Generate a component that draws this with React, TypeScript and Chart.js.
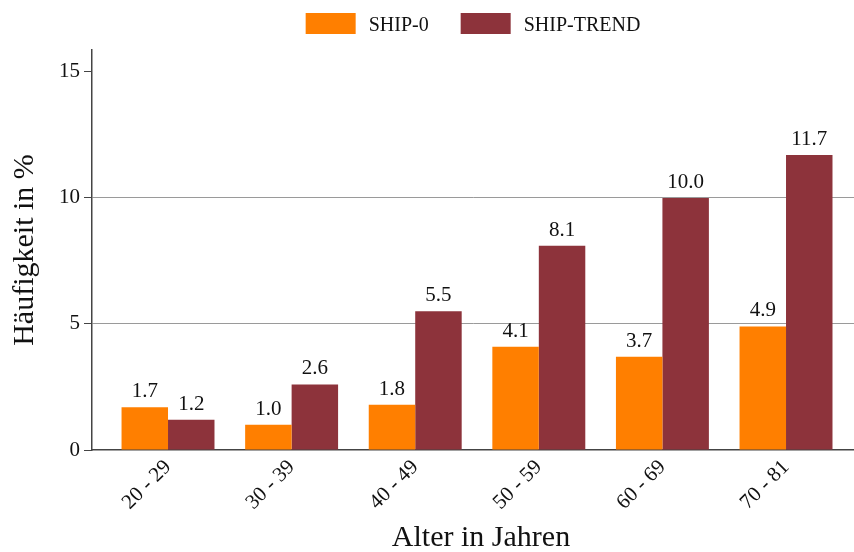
import React, { useEffect, useRef } from 'react';
import { Chart, registerables } from 'chart.js';

Chart.register(...registerables);

const categories = ['20 - 29', '30 - 39', '40 - 49', '50 - 59', '60 - 69', '70 - 81'];
const ship0 = [1.7, 1.0, 1.8, 4.1, 3.7, 4.9];
const shipTrend = [1.2, 2.6, 5.5, 8.1, 10.0, 11.7];
const yTicks = [0, 5, 10, 15];
const seriesLabels = ['SHIP-0', 'SHIP-TREND'];
const seriesColors = ['#FF7F00', '#8D333B'];
const xTitle = 'Alter in Jahren';
const yTitle = 'Häufigkeit in %';

const FONT = "'Liberation Serif', 'Times New Roman', serif";

const valueLabels = {
  id: 'valueLabels',
  afterDatasetsDraw(chart: any) {
    const ctx = chart.ctx;
    ctx.save();
    ctx.font = `21px ${FONT}`;
    ctx.fillStyle = '#111';
    ctx.textAlign = 'center';
    ctx.textBaseline = 'alphabetic';
    chart.data.datasets.forEach((ds: any, di: number) => {
      const meta = chart.getDatasetMeta(di);
      meta.data.forEach((bar: any, i: number) => {
        const v = ds.data[i].y as number;
        ctx.fillText(v.toFixed(1), bar.x, bar.y - 10);
      });
    });
    ctx.restore();
  },
};

const customLegend = {
  id: 'customLegend',
  afterDraw(chart: any) {
    const ctx = chart.ctx;
    const area = chart.chartArea;
    ctx.save();
    ctx.font = `20px ${FONT}`;
    const boxW = 50;
    const boxH = 21;
    const gapText = 13;
    const gapItem = 32;
    const items = chart.data.datasets.map((ds: any) => ({
      label: ds.label as string,
      color: ds.backgroundColor as string,
      w: ctx.measureText(ds.label).width,
    }));
    let total = 0;
    items.forEach((it: any, i: number) => {
      total += boxW + gapText + it.w + (i < items.length - 1 ? gapItem : 0);
    });
    let x = (area.left + area.right) / 2 - total / 2;
    const boxTop = 13;
    items.forEach((it: any) => {
      ctx.fillStyle = it.color;
      ctx.fillRect(x, boxTop, boxW, boxH);
      ctx.fillStyle = '#111';
      ctx.textAlign = 'left';
      ctx.textBaseline = 'alphabetic';
      ctx.fillText(it.label, x + boxW + gapText, 31);
      x += boxW + gapText + it.w + gapItem;
    });
    ctx.restore();
  },
};

const xAxisTitle = {
  id: 'xAxisTitle',
  afterDraw(chart: any) {
    const ctx = chart.ctx;
    const area = chart.chartArea;
    ctx.save();
    ctx.font = `30px ${FONT}`;
    ctx.fillStyle = '#111';
    ctx.textAlign = 'center';
    ctx.textBaseline = 'alphabetic';
    ctx.fillText(xTitle, (area.left + area.right) / 2 + 8, 546);
    ctx.restore();
  },
};

export default function App() {
  const ref = useRef<HTMLCanvasElement | null>(null);

  useEffect(() => {
    if (!ref.current) return;
    const chart = new Chart(ref.current, {
      type: 'bar',
      data: {
        datasets: [
          {
            label: seriesLabels[0],
            data: ship0.map((v, i) => ({ x: i, y: v })),
            backgroundColor: seriesColors[0],
            borderWidth: 0,
          },
          {
            label: seriesLabels[1],
            data: shipTrend.map((v, i) => ({ x: i, y: v })),
            backgroundColor: seriesColors[1],
            borderWidth: 0,
          },
        ],
      },
      options: {
        animation: false,
        responsive: true,
        maintainAspectRatio: false,
        devicePixelRatio: 1,
        layout: { padding: { top: 50, left: 0, right: 0, bottom: 0 } },
        datasets: {
          bar: { categoryPercentage: 0.752, barPercentage: 1.0 },
        },
        plugins: {
          legend: { display: false },
          tooltip: { enabled: false },
        },
        scales: {
          x: {
            type: 'linear',
            min: -0.615,
            max: 5.55,
            offset: false,
            grid: { display: false, offset: false },
            border: { display: true, color: '#444', width: 1.5 },
            afterBuildTicks: (axis: any) => {
              axis.ticks = categories.map((_, i) => ({ value: i }));
            },
            afterFit: (scale: any) => {
              scale.height = 102;
            },
            ticks: {
              autoSkip: false,
              minRotation: 45,
              maxRotation: 45,
              padding: -3,
              color: '#111',
              font: { family: FONT, size: 21 },
              callback: (value: any) => categories[Math.round(Number(value))] ?? '',
            },
            title: { display: false },
          },
          y: {
            type: 'linear',
            min: 0,
            max: 15.87,
            afterBuildTicks: (axis: any) => {
              axis.ticks = yTicks.map((v) => ({ value: v }));
            },
            afterFit: (scale: any) => {
              scale.width = 92;
            },
            grid: {
              display: true,
              drawTicks: true,
              tickLength: 8,
              tickColor: '#444',
              lineWidth: 1,
              color: (ctx: any) =>
                ctx.tick && (ctx.tick.value === 5 || ctx.tick.value === 10) ? '#9a9a9a' : 'rgba(0,0,0,0)',
            },
            border: { display: true, color: '#444', width: 1.5 },
            ticks: {
              padding: 4,
              color: '#111',
              font: { family: FONT, size: 21 },
            },
            title: {
              display: true,
              text: yTitle,
              color: '#111',
              font: { family: FONT, size: 30, lineHeight: 1 },
              padding: { top: 10, bottom: 0 },
            },
          },
        },
      } as any,
      plugins: [valueLabels, customLegend, xAxisTitle],
    });
    return () => chart.destroy();
  }, []);

  return (
    <div style={{ position: 'fixed', left: 0, top: 0, width: 854, height: 552, background: '#fff' }}>
      <canvas ref={ref} />
    </div>
  );
}
